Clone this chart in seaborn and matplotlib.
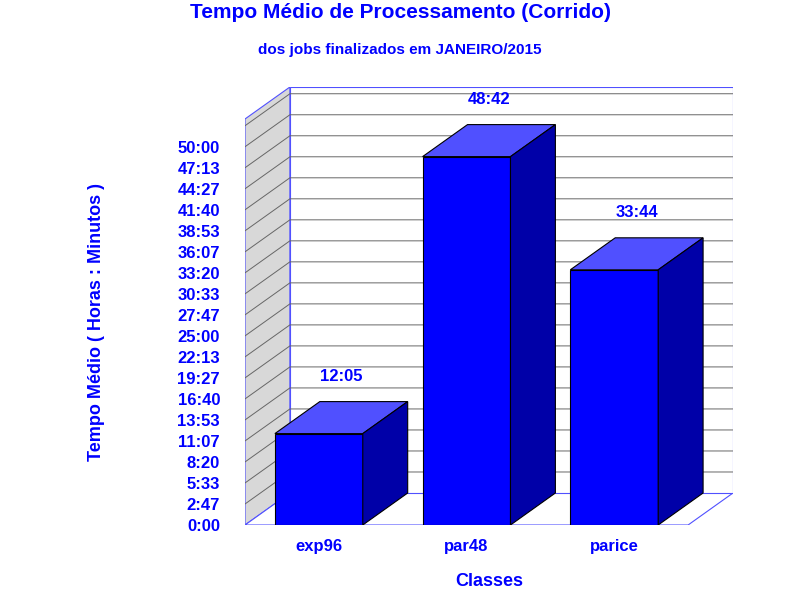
import matplotlib
matplotlib.use("Agg")
import matplotlib.pyplot as plt
import seaborn as sns
import pandas as pd
from matplotlib.patches import Polygon

classes = ["exp96", "par48", "parice"]
labels = ["12:05", "48:42", "33:44"]
hours = [12 + 5/60, 48 + 42/60, 33 + 44/60]
tick_labels = ["0:00", "2:47", "5:33", "8:20", "11:07", "13:53", "16:40", "19:27", "22:13",
               "25:00", "27:47", "30:33", "33:20", "36:07", "38:53", "41:40", "44:27", "47:13", "50:00"]

df = pd.DataFrame({"classe": classes, "horas": hours})

sns.set_style("white")
plt.rcParams["font.family"] = ["Liberation Sans", "DejaVu Sans"]
blue = "#0000FF"

fig = plt.figure(figsize=(8, 6), dpi=100)
# axes spans front plane plus depth offset
ax = fig.add_axes([245/800, 75/600, (733-245)/800, (525-87)/600])
dx, dy = 0.304, 4.23
top = 53.67
for s in ax.spines.values():
    s.set_visible(False)

w = 0.595
sns.barplot(data=df, x="classe", y="horas", color=blue, saturation=1, width=w,
            edgecolor="black", linewidth=0.8, ax=ax, zorder=2)
ax.set_xlim(-0.5, 2.5 + dx)
ax.set_ylim(0, top + dy)

# left wall, floor, back wall
ax.add_patch(Polygon([(-0.5, 0), (-0.5 + dx, dy), (-0.5 + dx, top + dy), (-0.5, top)],
                     closed=True, fc="#d8d8d8", ec="#5050ff", lw=0.8, zorder=0))
ax.add_patch(Polygon([(-0.5, 0), (2.5, 0), (2.5 + dx, dy), (-0.5 + dx, dy)],
                     closed=True, fc="white", ec="#5050ff", lw=0.8, zorder=0))
ax.add_patch(Polygon([(-0.5 + dx, dy), (2.5 + dx, dy), (2.5 + dx, top + dy), (-0.5 + dx, top + dy)],
                     closed=True, fc="white", ec="#5050ff", lw=0.8, zorder=0))
step = 50 / 18
for k in range(1, 20):
    y = k * step
    ax.plot([-0.5, -0.5 + dx, 2.5 + dx], [y, y + dy, y + dy], color="#666666", lw=0.7, zorder=0.5)

for i, h in enumerate(hours):
    l, r = i - w/2, i + w/2
    ax.add_patch(Polygon([(l, h), (r, h), (r + dx, h + dy), (l + dx, h + dy)],
                         closed=True, fc="#5050ff", ec="black", lw=0.8, zorder=3))
    ax.add_patch(Polygon([(r, 0), (r + dx, dy), (r + dx, h + dy), (r, h)],
                         closed=True, fc="#0000a8", ec="black", lw=0.8, zorder=3))
    ax.text(i + dx/2, h + dy + 2.3, labels[i], color=blue, fontsize=12, fontweight="bold",
            ha="center", va="bottom")

ax.set_yticks([k * step for k in range(19)])
ax.set_yticklabels(tick_labels, color=blue, fontsize=12, fontweight="bold")
ax.tick_params(axis="y", length=0, pad=18)
ax.tick_params(axis="x", length=0, pad=10, labelsize=12, labelcolor=blue)
for t in ax.get_xticklabels():
    t.set_fontweight("bold")
ax.set_xlabel("Classes", color=blue, fontsize=13, fontweight="bold", labelpad=14)
ax.set_ylabel("")
fig.text(97/800, 1 - 322/600, "Tempo Médio ( Horas : Minutos )", rotation=90, color=blue,
         fontsize=13, fontweight="bold", ha="center", va="center")
fig.text(400/800, 1 - 13/600, "Tempo Médio de Processamento (Corrido)", color=blue,
         fontsize=15, fontweight="bold", ha="center", va="center")
fig.text(400/800, 1 - 50/600, "dos jobs finalizados em JANEIRO/2015", color=blue,
         fontsize=11, fontweight="bold", ha="center", va="center")

fig.savefig("out.png", dpi=100)
